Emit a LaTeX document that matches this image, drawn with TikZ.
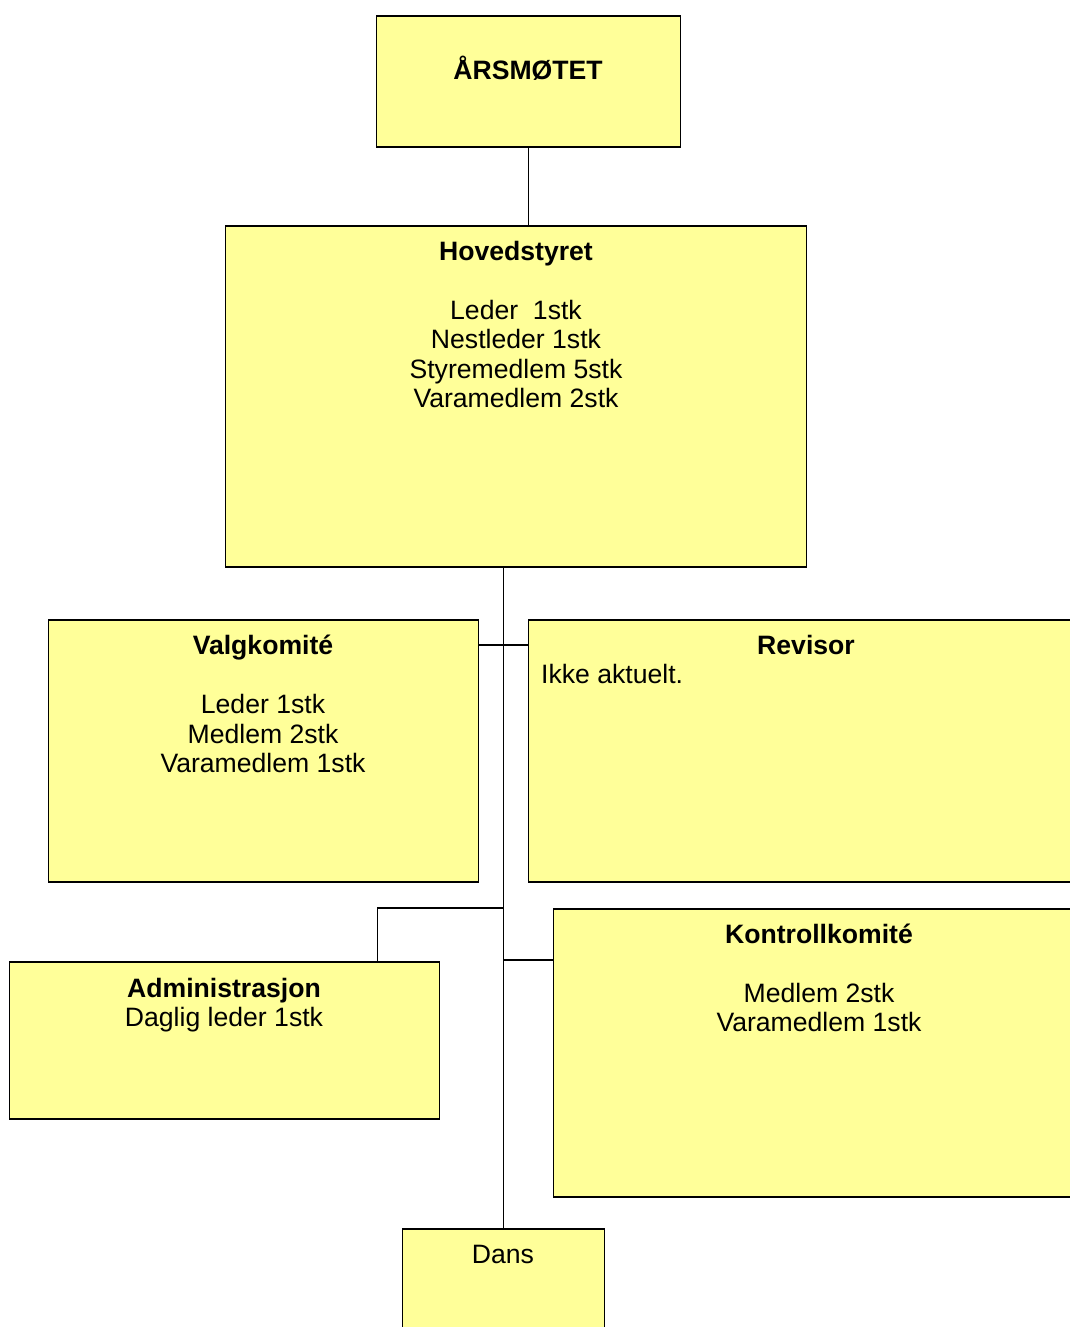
\documentclass[tikz,border=0pt]{standalone}
\usepackage{fontspec}
\setmainfont{Liberation Sans}
\definecolor{boxyellow}{RGB}{255,255,153}
\begin{document}
\begin{tikzpicture}[x=1pt,y=-1pt,
  box/.style={draw=black, fill=boxyellow, line width=1.6pt, inner sep=0pt, anchor=north west},
  txt/.style={font=\fontsize{26.6}{29.5}\selectfont, align=center, inner sep=0pt, anchor=base},
  conn/.style={line width=1.6pt}]
\clip (0,0) rectangle (1070,1327);
\fill[white] (0,0) rectangle (1070,1327);
% boxes
\node[box, minimum width=304pt, minimum height=131pt] (aars) at (375.5,15) {};
\node[box, minimum width=581pt, minimum height=341pt] (hoved) at (224.5,225) {};
\node[box, minimum width=430pt, minimum height=262pt] (valg) at (47.5,619) {};
\node[box, minimum width=556pt, minimum height=262pt] (rev) at (527.5,619) {};
\node[box, minimum width=430pt, minimum height=157pt] (admin) at (8.5,961) {};
\node[box, minimum width=532pt, minimum height=288pt] (kontroll) at (552.5,908) {};
\node[box, minimum width=202pt, minimum height=130pt] (dans) at (401.5,1228) {};
% texts (base anchor = baseline of the last line)
\node[txt] (taars) at (528,79.5) {\textbf{ÅRSMØTET}};
\node[txt] (thoved) at (516,407.5) {\textbf{Hovedstyret}\\[29.5pt]Leder\ \ 1stk\\Nestleder 1stk\\Styremedlem 5stk\\Varamedlem 2stk};
\node[txt] (tvalg) at (263,772.5) {\textbf{Valgkomité}\\[29.5pt]Leder 1stk\\Medlem 2stk\\Varamedlem 1stk};
\node[txt] (trev) at (806,654.5) {\textbf{Revisor}};
\node[txt, anchor=base west] (trev2) at (541,683.5) {Ikke aktuelt.};
\node[txt] (tadmin) at (224,1026.5) {\textbf{Administrasjon}\\Daglig leder 1stk};
\node[txt] (tkontroll) at (819,1031.5) {\textbf{Kontrollkomité}\\[29.5pt]Medlem 2stk\\Varamedlem 1stk};
\node[txt] (tdans) at (503,1263.5) {Dans};
% connectors
\draw[conn] (aars.south) -- (aars.south |- hoved.north);
\draw[conn] (hoved.south -| dans.north) -- (dans.north);
\coordinate (vc) at ([yshift=-26pt]valg.north east);
\draw[conn] (vc) -- (vc -| rev.west);
\coordinate (ac) at ([xshift=153pt]admin.north);
\coordinate (aj) at (502.5,908);
\draw[conn] (ac) |- (aj);
\coordinate (kc) at ([yshift=-52pt]kontroll.north west);
\draw[conn] (kc) -- (kc -| dans.north);
\end{tikzpicture}
\end{document}
